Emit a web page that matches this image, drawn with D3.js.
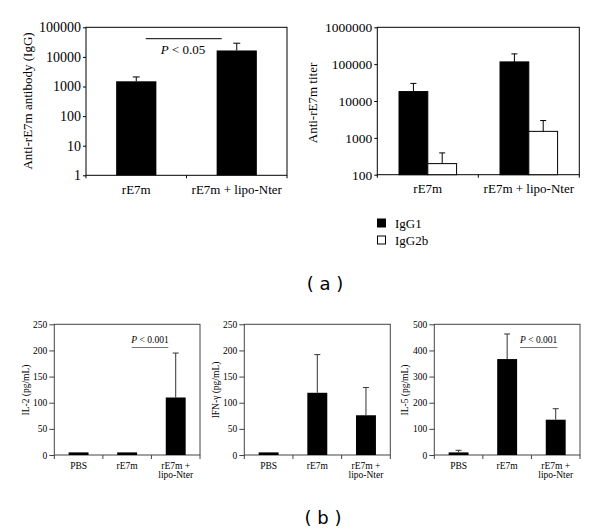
<!DOCTYPE html>
<html><head><meta charset="utf-8">
<script src="https://cdn.jsdelivr.net/npm/d3@7/dist/d3.min.js"></script>
<style>
html,body{margin:0;padding:0;background:#fff;}
svg text{font-family:"Liberation Serif","Times New Roman",serif;fill:#000;}
</style></head>
<body>
<svg id="c" width="600" height="532"></svg>
<script>
// ---- data ----
const aCategories = ["rE7m", "rE7m + lipo-Nter"];
const aIgG = [1500, 16500];
const aIgGErr = [600, 12500];
const aTicks = [1, 10, 100, 1000, 10000, 100000];

const titerSeries = ["IgG1", "IgG2b"];
const titerIgG1 = [18000, 115000];
const titerIgG1Err = [12000, 75000];
const titerIgG2b = [200, 1500];
const titerIgG2bErr = [190, 1450];
const titerTicks = [100, 1000, 10000, 100000, 1000000];

const bCategories = ["PBS", "rE7m", "rE7m +\nlipo-Nter"];
const il2 = [5, 5, 110];
const il2Err = [0, 0, 85];
const ifng = [5, 119, 76];
const ifngErr = [0, 73, 53];
const il5 = [10, 367, 135];
const il5Err = [8, 96, 42];
const il2Ticks = [0, 50, 100, 150, 200, 250];
const ifngTicks = [0, 50, 100, 150, 200, 250];
const il5Ticks = [0, 100, 200, 300, 400, 500];

const svg = d3.select("#c");

function frame(g, x0, x1, y0, y1, color) {
  g.append("rect").attr("x", x0).attr("y", y0).attr("width", x1 - x0).attr("height", y1 - y0)
    .attr("fill", "none").attr("stroke", color).attr("stroke-width", 1);
}

function catTicks(g, xs, yb, len, color) {
  xs.forEach(x => g.append("line").attr("x1", x).attr("x2", x).attr("y1", yb).attr("y2", yb + len)
    .attr("stroke", color).attr("stroke-width", 1));
}

function errBar(g, cx, yTop, yErr, cap, color) {
  g.append("line").attr("x1", cx).attr("x2", cx).attr("y1", yTop).attr("y2", yErr).attr("stroke", color);
  g.append("line").attr("x1", cx - cap / 2).attr("x2", cx + cap / 2).attr("y1", yErr).attr("y2", yErr).attr("stroke", color);
}

// ---------- Panel a-left ----------
(function () {
  const L = 86, R = 287, T = 27.3, B = 175.3;
  const g = svg.append("g");
  const y = d3.scaleLog().domain([1, 100000]).range([B, T]);
  const x = d3.scaleBand().domain(aCategories).range([L, R]).paddingInner(0.6).paddingOuter(0.3);
  frame(g, L, R, T, B, "#000");
  const ax = g.append("g").attr("transform", `translate(${L},0)`)
    .call(d3.axisLeft(y).tickValues(aTicks).tickFormat(d3.format("d")).tickSize(3).tickPadding(2));
  ax.select(".domain").remove();
  ax.selectAll("line").attr("stroke", "#000");
  ax.selectAll("text").style("font-size", "14px").style("font-family", "Liberation Serif");
  catTicks(g, [L, (L + R) / 2, R], B, 3, "#000");
  aCategories.forEach((c, i) => {
    g.append("rect").attr("x", x(c)).attr("y", y(aIgG[i])).attr("width", x.bandwidth())
      .attr("height", B - y(aIgG[i])).attr("fill", "#000");
    errBar(g, x(c) + x.bandwidth() / 2, y(aIgG[i]), y(aIgG[i] + aIgGErr[i]), 7, "#000");
    g.append("text").attr("x", x(c) + x.bandwidth() / 2).attr("y", 193.5).attr("text-anchor", "middle")
      .style("font-size", "13px").text(c);
  });
  g.append("text").attr("transform", "translate(32,101) rotate(-90)").attr("text-anchor", "middle")
    .style("font-size", "13px").text("Anti-rE7m antibody (IgG)");
  // significance
  g.append("line").attr("x1", 145.7).attr("x2", 221.7).attr("y1", 38.7).attr("y2", 38.7).attr("stroke", "#000");
  const t = g.append("text").attr("x", 183).attr("y", 53.5).attr("text-anchor", "middle").style("font-size", "13px");
  t.append("tspan").style("font-style", "italic").text("P");
  t.append("tspan").text(" < 0.05");
})();

// ---------- Panel a-right ----------
(function () {
  const L = 377.3, R = 579.3, T = 27.3, B = 174.7;
  const g = svg.append("g");
  const y = d3.scaleLog().domain([100, 1000000]).range([B, T]);
  const x0 = d3.scaleBand().domain(aCategories).range([L, R]).paddingInner(0.43).paddingOuter(0.215);
  const x1 = d3.scaleBand().domain(titerSeries).range([0, x0.bandwidth()]);
  frame(g, L, R, T, B, "#000");
  const ax = g.append("g").attr("transform", `translate(${L},0)`)
    .call(d3.axisLeft(y).tickValues(titerTicks).tickFormat(d3.format("d")).tickSize(3).tickPadding(2));
  ax.select(".domain").remove();
  ax.selectAll("line").attr("stroke", "#000");
  ax.selectAll("text").style("font-size", "13.5px").style("font-family", "Liberation Serif");
  catTicks(g, [L, (L + R) / 2, R], B, 3, "#000");
  const vals = { IgG1: titerIgG1, IgG2b: titerIgG2b };
  const errs = { IgG1: titerIgG1Err, IgG2b: titerIgG2bErr };
  const fills = { IgG1: "#000", IgG2b: "#fff" };
  aCategories.forEach((c, i) => {
    titerSeries.forEach(s => {
      const v = vals[s][i];
      const bx = x0(c) + x1(s);
      g.append("rect").attr("x", bx).attr("y", y(v)).attr("width", x1.bandwidth())
        .attr("height", B - y(v)).attr("fill", fills[s]).attr("stroke", "#000").attr("stroke-width", 1);
      errBar(g, bx + x1.bandwidth() / 2, y(v), y(v + errs[s][i]), 6, "#000");
    });
    g.append("text").attr("x", x0(c) + x0.bandwidth() / 2).attr("y", 193).attr("text-anchor", "middle")
      .style("font-size", "13px").text(c);
  });
  g.append("text").attr("transform", "translate(317,103) rotate(-90)").attr("text-anchor", "middle")
    .style("font-size", "13px").text("Anti-rE7m titer");
  // legend
  titerSeries.forEach((s, i) => {
    const ly = 223 + i * 17;
    g.append("rect").attr("x", 377.5).attr("y", ly - 4).attr("width", 8).attr("height", 8)
      .attr("fill", fills[s]).attr("stroke", "#000");
    g.append("text").attr("x", 395).attr("y", ly + 4.5).style("font-size", "13px").text(s);
  });
})();

svg.append("text").attr("x", 325).attr("y", 290).attr("text-anchor", "middle")
  .style("font-family", "DejaVu Sans").style("font-size", "18px").text("( a )");
svg.append("text").attr("x", 323).attr("y", 524).attr("text-anchor", "middle")
  .style("font-family", "DejaVu Sans").style("font-size", "18px").text("( b )");

// ---------- Panels b ----------
function bPanel(L, R, vals, errs, ticks, maxV, label, labelX, sig) {
  const T = 324.3, B = 455;
  const col = "#444";
  const g = svg.append("g");
  const y = d3.scaleLinear().domain([0, maxV]).range([B, T]);
  const x = d3.scaleBand().domain(bCategories).range([L, R]).paddingInner(0.59).paddingOuter(0.295);
  frame(g, L, R, T, B, col);
  const ax = g.append("g").attr("transform", `translate(${L},0)`)
    .call(d3.axisLeft(y).tickValues(ticks).tickSize(5).tickPadding(2));
  ax.select(".domain").remove();
  ax.selectAll("line").attr("stroke", col);
  ax.selectAll("text").style("font-size", "9.5px").style("font-family", "Liberation Serif");
  const step = x.step();
  catTicks(g, d3.range(4).map(k => L + k * step), B, 4, col);
  bCategories.forEach((c, i) => {
    const bx = x(c), v = vals[i];
    g.append("rect").attr("x", bx).attr("y", y(v)).attr("width", x.bandwidth())
      .attr("height", B - y(v)).attr("fill", "#000");
    if (errs[i] > 0) errBar(g, bx + x.bandwidth() / 2, y(v), y(v + errs[i]), 6, "#333");
    const lines = c.split("\n");
    const t = g.append("text").attr("text-anchor", "middle").style("font-size", "9.5px");
    lines.forEach((ln, k) => t.append("tspan").attr("x", bx + x.bandwidth() / 2).attr("y", 469 + k * 9).text(ln));
  });
  g.append("text").attr("transform", `translate(${labelX},390) rotate(-90)`).attr("text-anchor", "middle")
    .style("font-size", "9.5px").text(label);
  if (sig) {
    g.append("line").attr("x1", sig[0]).attr("x2", sig[1]).attr("y1", 347.5).attr("y2", 347.5)
      .attr("stroke", "#777").attr("stroke-width", 1.2);
    const t = g.append("text").attr("x", (sig[0] + sig[1]) / 2).attr("y", 342.5).attr("text-anchor", "middle")
      .style("font-size", "9.5px");
    t.append("tspan").style("font-style", "italic").text("P");
    t.append("tspan").text(" < 0.001");
  }
}
bPanel(54.3, 200, il2, il2Err, il2Ticks, 250, "IL-2 (pg/mL)", 29, [131.7, 168.3]);
bPanel(244.3, 390.3, ifng, ifngErr, ifngTicks, 250, "IFN-γ (pg/mL)", 219, null);
bPanel(434.3, 580, il5, il5Err, il5Ticks, 500, "IL-5 (pg/mL)", 408, [520, 557.3]);
</script>
</body></html>
